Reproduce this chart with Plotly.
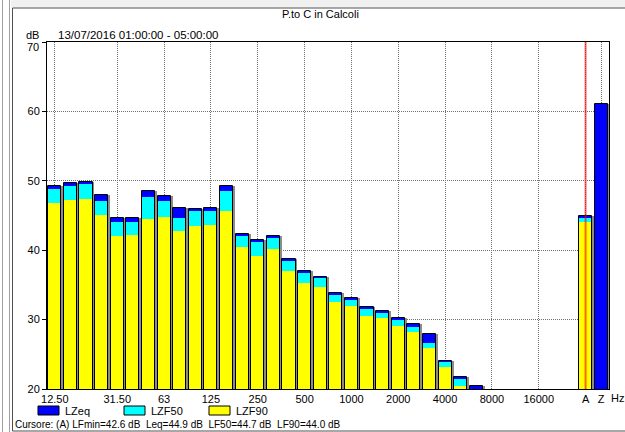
import plotly.graph_objects as go

# ---------------- data ----------------
bands = ["12.5", "16", "20", "25", "31.5", "40", "50", "63", "80", "100", "125", "160",
         "200", "250", "315", "400", "500", "630", "800", "1000", "1250", "1600", "2000",
         "2500", "3150", "4000", "5000", "6300", "8000", "10000", "12500", "16000", "20000",
         "", "A", "Z"]
LZeq = [49.2, 49.7, 49.8, 47.9, 44.6, 44.6, 48.5, 47.8, 46.1, 45.9, 46.1, 49.2,
        42.3, 41.5, 42.1, 38.7, 37.0, 36.2, 33.8, 33.1, 31.8, 31.3, 30.2,
        29.4, 27.9, 24.1, 21.7, 20.4, 18.6, 17.9, 17.2, 16.8, 16.5,
        None, 44.9, 61.0]
LZF50 = [48.8, 49.3, 49.5, 47.1, 44.0, 44.0, 47.7, 47.1, 44.7, 45.6, 45.7, 48.6,
         42.1, 41.2, 41.8, 38.4, 36.7, 36.0, 33.5, 32.8, 31.5, 31.0, 29.9,
         29.0, 26.6, 23.9, 21.4, 19.7, 17.9, 17.3, 16.7, 16.3, 16.0,
         None, 44.7, None]
LZF90 = [46.8, 47.3, 47.4, 45.1, 42.1, 42.2, 44.5, 44.8, 42.8, 43.5, 43.6, 45.6,
         40.4, 39.2, 40.2, 37.0, 35.3, 34.7, 32.5, 32.0, 30.5, 30.2, 29.1,
         28.2, 25.9, 23.1, 20.5, 19.3, 17.5, 16.9, 16.3, 15.9, 15.6,
         None, 44.0, None]
tick_bands = ["12.5", "31.5", "63", "125", "250", "500", "1000", "2000", "4000",
              "8000", "16000", "A", "Z"]
tick_text = ["12.50", "31.50", "63", "125", "250", "500", "1000", "2000", "4000",
             "8000", "16000", "A", "Z"]
y_ticks = [20, 30, 40, 50, 60, 70]
cursor_band = "A"
title_text = "P.to C in Calcoli"
period_text = "13/07/2016 01:00:00 - 05:00:00"
cursor_text = ("Cursore: (A) LFmin=42.6 dB\u00a0 Leq=44.9 dB\u00a0 LF50=44.7 dB\u00a0 LF90=44.0 dB")
series_names = ["LZeq", "LZF50", "LZF90"]
series_colors = ["#0000ff", "#00ffff", "#ffff00"]

# ---------------- layout geometry ----------------
W, H = 625, 432
ML, MR, MT, MB = 47, 16, 42, 43
PW, PH = W - ML - MR, H - MT - MB


def px(x):
    return (x - ML) / PW


def py(y):
    return (H - MB - y) / PH


xs = list(range(len(bands)))
BW = 0.84
FONT = "Liberation Sans, Arial, sans-serif"

fig = go.Figure()
# shadow
fig.add_trace(go.Bar(x=xs, y=LZeq, width=BW, offset=-BW / 2 + 0.12,
                     marker=dict(color="#8c8c8c", line=dict(width=0)),
                     showlegend=False, hoverinfo="skip"))
for name, vals, col in zip(series_names, [LZeq, LZF50, LZF90], series_colors):
    fig.add_trace(go.Bar(x=xs, y=vals, width=BW, offset=-BW / 2, name=name,
                         marker=dict(color=col, line=dict(width=0)),
                         showlegend=False))
# outline
fig.add_trace(go.Bar(x=xs, y=LZeq, width=BW, offset=-BW / 2,
                     marker=dict(color="rgba(0,0,0,0)", line=dict(color="#000000", width=1)),
                     showlegend=False, hoverinfo="skip"))

tickvals = [bands.index(b) for b in tick_bands]
cur_x = bands.index(cursor_band)
top_tick = y_ticks[-1]

shapes = [
    # window frame
    dict(type="rect", xref="paper", yref="paper", x0=px(11), x1=px(626), y0=py(0), y1=py(7.5),
         fillcolor="#f0f0f0", line=dict(width=0), layer="below"),
    dict(type="line", xref="paper", yref="paper", x0=px(2.5), x1=px(2.5), y0=py(0), y1=py(432),
         line=dict(color="#a0a0a0", width=1)),
    dict(type="line", xref="paper", yref="paper", x0=px(9.5), x1=px(9.5), y0=py(0), y1=py(432),
         line=dict(color="#a0a0a0", width=1)),
    dict(type="rect", xref="paper", yref="paper", x0=px(12.5), x1=px(630), y0=py(8), y1=py(431),
         line=dict(color="#505050", width=1)),
    # cursor line
    dict(type="line", xref="x", yref="paper", x0=cur_x, x1=cur_x, y0=0, y1=1,
         line=dict(color="rgba(255,0,0,0.6)", width=2), layer="above"),
]

annotations = [
    dict(text=title_text, x=px(320), y=py(14), xref="paper", yref="paper",
         showarrow=False, xanchor="center", yanchor="middle", font=dict(size=11)),
    dict(text=period_text, x=px(56), y=py(35), xref="paper", yref="paper",
         showarrow=False, xanchor="left", yanchor="middle", font=dict(size=11.5)),
    dict(text="dB", x=px(41), y=py(35), xref="paper", yref="paper",
         showarrow=False, xanchor="right", yanchor="middle", font=dict(size=11)),
    # top tick label sits just under the "dB" unit, as in the original
    dict(text=str(top_tick), x=px(41), y=py(47), xref="paper", yref="paper",
         showarrow=False, xanchor="right", yanchor="middle", font=dict(size=11)),
    dict(text="Hz", x=px(609), y=py(398), xref="paper", yref="paper",
         showarrow=False, xanchor="left", yanchor="middle", font=dict(size=11)),
    dict(text=cursor_text, x=px(13), y=py(424), xref="paper", yref="paper",
         showarrow=False, xanchor="left", yanchor="middle", font=dict(size=10)),
]

# legend (drawn manually to match the boxed swatches)
leg_x = [38, 124, 209]
for lx, name, col in zip(leg_x, series_names, series_colors):
    shapes.append(dict(type="rect", xref="paper", yref="paper", x0=px(lx), x1=px(lx + 21),
                       y0=py(415), y1=py(406), fillcolor=col,
                       line=dict(color="#000000", width=1)))
    annotations.append(dict(text=name, x=px(lx + 25), y=py(410.5), xref="paper", yref="paper",
                            showarrow=False, xanchor="left", yanchor="middle",
                            font=dict(size=11)))

fig.update_layout(
    width=W, height=H,
    margin=dict(l=ML, r=MR, t=MT, b=MB, pad=0),
    paper_bgcolor="white", plot_bgcolor="white",
    barmode="overlay", bargap=0,
    font=dict(family=FONT, size=11, color="#000000"),
    shapes=shapes, annotations=annotations,
    showlegend=False,
)
fig.update_xaxes(range=[-0.5, len(bands) - 0.5], tickmode="array", tickvals=tickvals,
                 ticktext=tick_text, showgrid=True, gridcolor="#707070", griddash="1px,1px",
                 gridwidth=1, showline=True, linecolor="#000000", linewidth=1, mirror=True,
                 ticks="", zeroline=False, tickfont=dict(size=11))
fig.update_yaxes(range=[20, 70], tickmode="array", tickvals=y_ticks,
                 ticktext=[str(v) for v in y_ticks[:-1]] + [""],
                 showgrid=True, gridcolor="#707070",
                 griddash="1px,1px", gridwidth=1, showline=True, linecolor="#000000", linewidth=1,
                 mirror=True, ticks="outside", ticklen=4, tickcolor="#000000", zeroline=False,
                 tickfont=dict(size=11))

fig.write_html("out.html")
